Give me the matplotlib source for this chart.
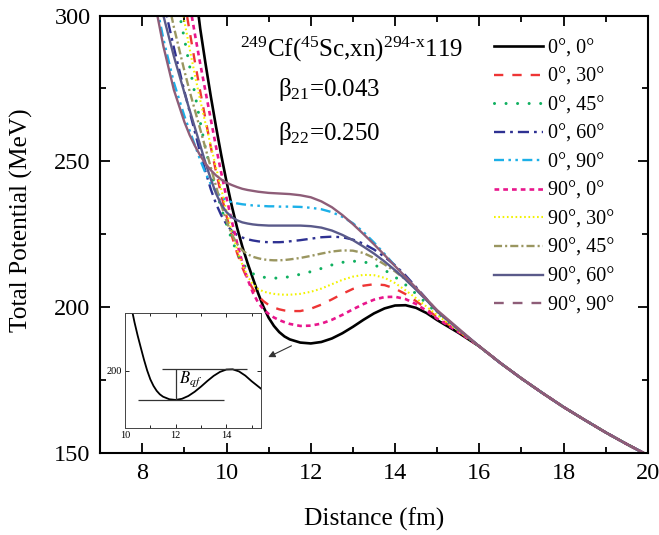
import matplotlib
matplotlib.use("Agg")
import matplotlib.pyplot as plt
from matplotlib.lines import Line2D
from matplotlib.ticker import MultipleLocator

plt.rcParams['font.family'] = ['Liberation Serif', 'DejaVu Serif']
plt.rcParams['mathtext.fontset'] = 'stix'
plt.rcParams['lines.scale_dashes'] = False

# Separation distance grid (fm); finer where the curves bend
distance = [8.0, 8.25, 8.5, 8.75, 9.0, 9.125, 9.25, 9.375, 9.5, 9.625, 9.75, 9.875,
            10.0, 10.125, 10.25, 10.375, 10.5, 10.625, 10.75, 10.875, 11.0, 11.125,
            11.25, 11.375, 11.5, 11.75, 12.0, 12.25, 12.5, 12.75, 13.0, 13.25, 13.5,
            13.75, 14.0, 14.25, 14.5, 14.75, 15.0, 15.5]
# Common Coulomb tail shared by all orientations (fm, MeV)
tail_distance = [16.0, 16.5, 17.0, 17.5, 18.0, 18.5, 19.0, 19.5, 20.0]
tail_potential = [186.6, 180.9, 175.6, 170.6, 165.8, 161.4, 157.1, 153.1, 149.3]

# Total potential (MeV) for each orientation pair
v_0_0 = [472, 436, 401, 367, 336, 323, 310, 295.5, 283.6, 272.4, 261.9, 252.1,
         243.0, 234.7, 227.3, 220.8, 215.1, 209.9, 204.8, 200.2, 196.4, 193.6,
         191.5, 190.0, 189.0, 187.9, 187.6, 188.1, 189.3, 191.1, 193.3, 195.7, 197.9,
         199.6, 200.6, 200.7, 199.8, 198.0, 195.6, 191.3]
v_0_30 = [405, 378, 352, 327, 305, 294.5, 284, 274, 264.5, 255, 246.5, 238.5,
          231.2, 224.5, 218.6, 213.6, 209.5, 206.3, 203.9, 202.1, 200.8, 199.9,
          199.3, 198.9, 198.7, 198.7, 199.5, 200.9, 202.7, 204.6, 206.3, 207.4, 207.9,
          207.6, 206.4, 204.5, 202.1, 199.4, 196.6, 191.8]
v_0_45 = [375, 350, 328, 310, 292, 282.5, 273, 263.5, 254.5, 247, 240.2, 234,
          228.4, 223.2, 218.7, 215.2, 212.9, 211.5, 210.7, 210.3, 210.1, 210.0,
          210.0, 210.2, 210.5, 211.3, 212.2, 213.3, 214.5, 215.4, 215.8, 215.6, 214.6,
          212.8, 210.4, 207.7, 204.6, 201.3, 197.9, 192.2]
v_0_60 = [345, 322, 305, 289, 274, 267, 260, 253, 246.5, 240.5, 235.5, 231.5,
          228.4, 226.2, 224.8, 223.9, 223.3, 222.9, 222.6, 222.4, 222.3, 222.3,
          222.3, 222.4, 222.6, 223.0, 223.5, 224.0, 224.2, 224.0, 223.2, 221.8, 219.8,
          217.3, 214.4, 210.9, 206.9, 202.8, 198.6, 192.4]
v_0_90 = [330, 310, 292, 277, 265.5, 260.5, 255.5, 250.5, 246, 242.3, 239.6, 237.8,
          236.7, 236.0, 235.6, 235.3, 235.1, 234.9, 234.8, 234.7, 234.6, 234.6,
          234.5, 234.5, 234.5, 234.4, 234.1, 233.6, 232.6, 231.0, 228.8, 225.8, 222.2,
          218.3, 214.2, 210.2, 206.3, 202.5, 198.7, 192.6]
v_90_0 = [420, 392, 365, 339, 315, 304, 293.5, 283.5, 274, 264.5, 255, 246,
          237.5, 229.5, 222, 215.3, 209.6, 205.0, 201.6, 199.3, 197.7, 196.5,
          195.6, 194.9, 194.3, 193.6, 193.7, 194.4, 195.7, 197.4, 199.3, 201.1, 202.6,
          203.5, 203.6, 202.8, 201.1, 198.8, 196.1, 191.6]
v_90_30 = [390, 362, 337, 316, 298, 288.5, 279.5, 271, 263, 255.5, 248, 240.5,
           233, 226, 219.8, 214.6, 210.6, 207.9, 206.3, 205.4, 204.9, 204.6,
           204.4, 204.3, 204.3, 204.6, 205.3, 206.4, 207.9, 209.4, 210.5, 211.1, 211.0,
           210.1, 208.3, 205.8, 203.1, 200.2, 197.3, 192.0]
v_90_45 = [355, 333, 313, 296, 281, 274, 267.5, 261, 254.5, 248, 241.5, 235,
           229.5, 225, 221.7, 219.5, 218.2, 217.3, 216.8, 216.4, 216.2, 216.1,
           216.1, 216.2, 216.4, 216.9, 217.6, 218.4, 219.1, 219.5, 219.4, 218.6, 216.9,
           214.7, 212.3, 209.5, 206.2, 202.5, 198.5, 192.3]
v_90_60 = [335, 316, 300, 286, 273.5, 267.5, 261.5, 255.5, 249.5, 244, 239, 235.2,
           232.6, 230.9, 229.8, 229.1, 228.7, 228.4, 228.2, 228.1, 228.0, 228.0,
           228.0, 228.0, 228.0, 228.0, 227.8, 227.3, 226.3, 224.8, 223.0, 220.8, 218.4,
           215.7, 212.7, 209.5, 206.0, 202.4, 198.6, 192.5]
v_90_90 = [328, 308, 289.5, 274.5, 263.5, 259, 255.3, 252, 249.2, 247, 245.2, 243.8,
           242.7, 241.9, 241.2, 240.6, 240.2, 239.9, 239.6, 239.4, 239.2, 239.1,
           239.0, 238.9, 238.8, 238.4, 237.7, 236.3, 234.3, 231.6, 228.5, 225.1, 221.6,
           217.9, 214.1, 210.4, 206.6, 202.8, 199.0, 192.8]

labels = ["0°, 0°", "0°, 30°", "0°, 45°", "0°, 60°", "0°, 90°",
          "90°, 0°", "90°, 30°", "90°, 45°", "90°, 60°", "90°, 90°"]
series = [v_0_0, v_0_30, v_0_45, v_0_60, v_0_90,
          v_90_0, v_90_30, v_90_45, v_90_60, v_90_90]

styles = [
    dict(color='black', lw=1.9, ls='-', dash_capstyle='butt'),
    dict(color='#ee3535', lw=1.7, dashes=(6.7, 6.5), dash_capstyle='butt'),
    dict(color='#10b060', lw=2.2, dashes=(0.01, 8.3), dash_capstyle='round'),
    dict(color='#2e3192', lw=1.7, dashes=(8.0, 3.6, 2.0, 3.6), dash_capstyle='butt'),
    dict(color='#1cb0e8', lw=1.7, dashes=(7.2, 3.2, 1.8, 3.2, 1.8, 3.2), dash_capstyle='butt'),
    dict(color='#e8168c', lw=1.9, dashes=(3.4, 2.9), dash_capstyle='butt'),
    dict(color='#f2f200', lw=1.5, dashes=(1.2, 1.9), dash_capstyle='butt'),
    dict(color='#9a9660', lw=1.7, dashes=(5.8, 2.2, 1.5, 2.2), dash_capstyle='butt'),
    dict(color='#5a5a8a', lw=1.7, ls='-', dash_capstyle='butt'),
    dict(color='#8e5d78', lw=1.7, ls='-', dash_capstyle='butt'),
]

fig = plt.figure(figsize=(6.59, 5.35), dpi=100)
ax = fig.add_axes([0.152, 0.153, 0.831, 0.818])

x_full = distance + tail_distance
handles = []
for vals, st, lab in zip(series, styles, labels):
    ax.plot(x_full, vals + tail_potential, solid_capstyle='butt', solid_joinstyle='round', **st)
    handles.append(Line2D([], [], label=lab, **st))
# legend sample for the 90°, 90° curve is dashed
handles[-1] = Line2D([], [], color='#8e5d78', lw=1.7, dashes=(7.0, 6.5),
                     dash_capstyle='butt', label=labels[-1])

ax.set_xlim(7, 20)
ax.set_ylim(150, 300)
ax.set_xticks([8, 10, 12, 14, 16, 18, 20])
ax.xaxis.set_minor_locator(MultipleLocator(1))
ax.yaxis.set_major_locator(MultipleLocator(50))
ax.yaxis.set_minor_locator(MultipleLocator(25))
ax.tick_params(which='both', direction='in', top=True, right=True, labelsize=17.5, width=1.3)
ax.tick_params(which='major', length=7, pad=7)
ax.tick_params(which='minor', length=4)
for s in ax.spines.values():
    s.set_linewidth(1.5)
ax.set_xlabel('Distance (fm)', fontsize=18.3)
ax.set_ylabel('Total Potential (MeV)', fontsize=18.3)
ax.xaxis.set_label_coords(0.5, -0.125)
ax.yaxis.set_label_coords(-0.122, 0.533)

ax.text(12.97, 285.9, r'$\mathregular{^{249}}$Cf($\mathregular{^{45}}$Sc,xn)$\mathregular{^{294\text{-}x}}$119',
        ha='center', va='baseline', fontsize=18)
ax.text(11.22, 272.3, r'$\mathregular{β_{21}}$=0.043', ha='left', va='baseline', fontsize=18)
ax.text(11.22, 257.4, r'$\mathregular{β_{22}}$=0.250', ha='left', va='baseline', fontsize=18)

ax.legend(handles=handles, loc='upper left', bbox_to_anchor=(494 / 659, 1 - 39 / 535),
          bbox_transform=fig.transFigure, frameon=False, fontsize=14.5,
          handlelength=2.45, handletextpad=0.25, labelspacing=0.47, borderpad=0, borderaxespad=0)

ax.annotate('', xy=(10.93, 182.5), xytext=(11.6, 187.2),
            arrowprops=dict(arrowstyle='-|>', color='#333333', lw=0.8, mutation_scale=10))

# inset: barrier definition on the 0°, 0° curve
ins = fig.add_axes([0.1897, 0.2, 0.2064, 0.215])
ins.plot(x_full, v_0_0 + tail_potential, color='black', lw=1.3)
ins.set_xlim(10, 15.37)
ins.set_ylim(175.6, 224.8)
ins.set_xticks([10, 12, 14])
ins.set_yticks([200])
ins.xaxis.set_minor_locator(MultipleLocator(1))
ins.tick_params(which='both', direction='in', top=True, right=True, labelsize=7.5,
                width=0.6, pad=2)
ins.tick_params(which='major', length=3)
ins.tick_params(which='minor', length=2)
for s in ins.spines.values():
    s.set_linewidth(0.7)
    s.set_color('#444444')
ins.hlines(187.6, 10.53, 13.89, color='#333333', lw=0.9)
ins.hlines(200.7, 11.47, 14.83, color='#333333', lw=0.9)
ins.vlines(12.02, 187.6, 200.7, color='#333333', lw=0.9)
ins.text(12.12, 196.5, r'$B_{qf}$', fontsize=12, ha='left', va='center')

fig.savefig('out.png', dpi=100)
